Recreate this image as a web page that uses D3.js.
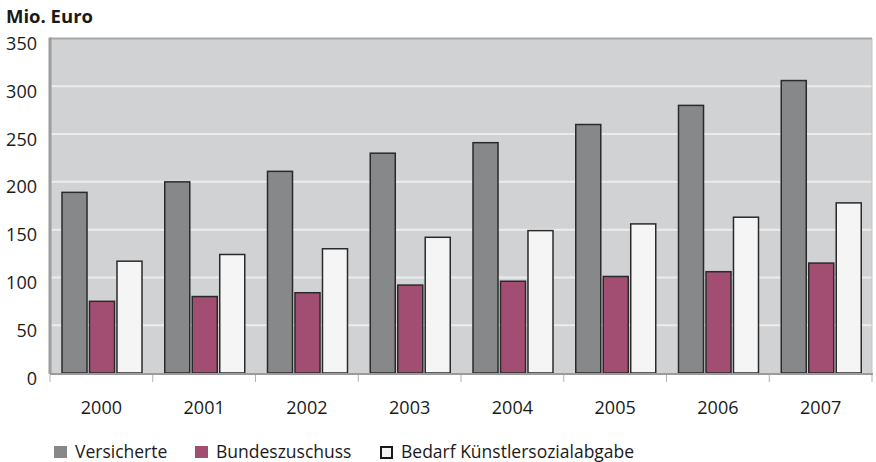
<!DOCTYPE html>
<html><head><meta charset="utf-8">
<script src="https://cdn.jsdelivr.net/npm/d3@7"></script>
<style>
html,body{margin:0;padding:0;background:#fff;}
svg{display:block;font-family:"Open Sans",sans-serif;}
</style></head>
<body><svg id="c" width="876" height="462"></svg>
<script>
const years = ["2000","2001","2002","2003","2004","2005","2006","2007"];
const versicherte = [189, 200, 211, 230, 241, 260, 280, 306];
const bundeszuschuss = [75, 80, 84, 92, 96, 101, 106, 115];
const bedarf = [117, 124, 130, 142, 149, 156, 163, 178];
const seriesNames = ["Versicherte", "Bundeszuschuss", "Bedarf Künstlersozialabgabe"];
const seriesColors = ["#87888a", "#a24e72", "#f4f5f4"];
const yTicks = [0, 50, 100, 150, 200, 250, 300, 350];
const yTitle = "Mio. Euro";

const seriesValues = [versicherte, bundeszuschuss, bedarf];
const svg = d3.select("#c");
const L = 50, R = 872, T = 38.5, B = 373;

const x0 = d3.scaleBand().domain(years).range([L, R]).padding(0);
const x1 = d3.scaleBand().domain(d3.range(3)).range([12, 92]).paddingInner(0.09);
const y = d3.scaleLinear().domain([0, 350]).range([B, T]);

// background
svg.append("rect").attr("x", L).attr("y", T).attr("width", R - L).attr("height", B - T).attr("fill", "#d1d2d4");
// gridlines
svg.append("g").selectAll("line").data(yTicks.filter(d => d > 0 && d < 350)).join("line")
  .attr("x1", L).attr("x2", R).attr("y1", d => y(d)).attr("y2", d => y(d))
  .attr("stroke", "#ececec").attr("stroke-width", 2);
// frame
svg.append("line").attr("x1", L).attr("x2", R).attr("y1", T).attr("y2", T).attr("stroke", "#a8a8a8").attr("stroke-width", 2);
svg.append("line").attr("x1", R).attr("x2", R).attr("y1", T).attr("y2", B).attr("stroke", "#c4c4c4").attr("stroke-width", 1);
svg.append("line").attr("x1", L).attr("x2", L).attr("y1", T - 1).attr("y2", B + 1).attr("stroke", "#9c9c9c").attr("stroke-width", 3);

// bars
const groups = svg.append("g").selectAll("g").data(years).join("g")
  .attr("transform", d => `translate(${x0(d)},0)`);
groups.selectAll("rect").data((yr, i) => seriesValues.map((s, k) => ({k, v: s[i]}))).join("rect")
  .attr("x", d => x1(d.k)).attr("width", x1.bandwidth())
  .attr("y", d => y(d.v)).attr("height", d => y(0) - y(d.v))
  .attr("fill", d => seriesColors[d.k]).attr("stroke", "#2a2a2a").attr("stroke-width", 1.5);

// x axis
svg.append("line").attr("x1", L).attr("x2", R + 1).attr("y1", B + 1).attr("y2", B + 1).attr("stroke", "#9a9a9a").attr("stroke-width", 2);
const xa = svg.append("g").attr("transform", `translate(0,${B + 1})`)
  .call(d3.axisBottom(x0).tickSize(0).tickPadding(27));
xa.select(".domain").remove();
xa.selectAll("text").attr("font-family", "Open Sans").attr("font-size", 18).attr("fill", "#1a1a1a");
svg.append("g").selectAll("line").data(years.concat(["end"])).join("line")
  .attr("x1", d => d === "end" ? R : x0(d)).attr("x2", d => d === "end" ? R : x0(d))
  .attr("y1", B + 2).attr("y2", B + 9).attr("stroke", "#b0b0b0").attr("stroke-width", 1);

// y axis labels
const ya = svg.append("g").attr("transform", `translate(${L},0)`)
  .call(d3.axisLeft(y).tickValues(yTicks).tickSize(0).tickPadding(13));
ya.select(".domain").remove();
ya.selectAll("text").attr("font-family", "Open Sans").attr("font-size", 18).attr("fill", "#1a1a1a")
  .attr("dy", "0.95em").attr("y", -6);

// title
svg.append("text").attr("x", 6).attr("y", 23).attr("font-family", "Open Sans").attr("font-weight", "bold")
  .attr("font-size", 18.5).attr("fill", "#1a1a1a").text(yTitle);

// legend
const legX = [54, 195, 380];
const leg = svg.append("g");
seriesNames.forEach((name, k) => {
  leg.append("rect").attr("x", legX[k] + (k === 2 ? 1 : 0)).attr("y", 446 + (k === 2 ? 1 : 0))
    .attr("width", k === 2 ? 11 : 13).attr("height", k === 2 ? 11 : 12)
    .attr("fill", seriesColors[k]).attr("stroke", k === 2 ? "#1a1a1a" : "none").attr("stroke-width", 2);
  leg.append("text").attr("x", legX[k] + 21).attr("y", 458).attr("font-family", "Open Sans")
    .attr("font-size", 17.5).attr("fill", "#1a1a1a").text(name);
});
</script></body></html>
